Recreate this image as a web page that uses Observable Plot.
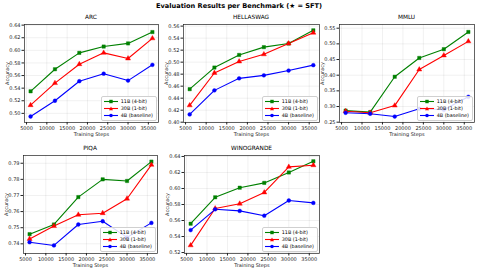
<!DOCTYPE html>
<html><head><meta charset="utf-8">
<script src="https://cdn.jsdelivr.net/npm/d3@7"></script>
<script src="https://cdn.jsdelivr.net/npm/@observablehq/plot@0.6"></script>
<style>
body{margin:0;background:#fff;}
#fig{position:relative;width:478px;height:271px;overflow:hidden;font-family:"DejaVu Sans",sans-serif;background:#fff;}
.t{position:absolute;white-space:nowrap;color:#000;line-height:1;}
.leg{position:absolute;border:0.7px solid #d0d0d0;border-radius:2px;background:rgba(255,255,255,0.85);font-size:4.9px;padding:1.5px 2.5px 1px 2px;line-height:1;}
.leg div{display:flex;align-items:center;height:6.8px;}
.leg svg{margin-right:3px;}
.p{position:absolute;}
</style></head><body><div id="fig"></div>
<script>
// ---- data ----
const steps = [6000, 12000, 18000, 24000, 30000, 36000];
const models = ["11B (4-bit)", "30B (1-bit)", "4B (baseline)"];
const benchmarks = ["ARC", "HELLASWAG", "MMLU", "PIQA", "WINOGRANDE"];

const arc_11B = [0.535, 0.570, 0.596, 0.606, 0.611, 0.629];
const arc_30B = [0.513, 0.548, 0.578, 0.596, 0.587, 0.619];
const arc_4B  = [0.495, 0.520, 0.551, 0.563, 0.552, 0.577];

const hellaswag_11B = [0.455, 0.491, 0.512, 0.525, 0.531, 0.553];
const hellaswag_30B = [0.428, 0.482, 0.501, 0.513, 0.531, 0.549];
const hellaswag_4B  = [0.413, 0.453, 0.473, 0.478, 0.486, 0.495];

const mmlu_11B = [0.287, 0.282, 0.395, 0.455, 0.483, 0.538];
const mmlu_30B = [0.285, 0.280, 0.303, 0.418, 0.463, 0.508];
const mmlu_4B  = [0.280, 0.277, 0.268, 0.293, 0.290, 0.331];

const piqa_11B = [0.746, 0.752, 0.769, 0.780, 0.779, 0.791];
const piqa_30B = [0.743, 0.751, 0.758, 0.759, 0.768, 0.789];
const piqa_4B  = [0.741, 0.739, 0.752, 0.754, 0.744, 0.753];

const winogrande_11B = [0.556, 0.589, 0.601, 0.607, 0.620, 0.634];
const winogrande_30B = [0.529, 0.575, 0.581, 0.595, 0.627, 0.629];
const winogrande_4B  = [0.548, 0.574, 0.572, 0.566, 0.585, 0.582];

const xTicks = [5000, 10000, 15000, 20000, 25000, 30000, 35000];
const arcTicks = [0.50, 0.52, 0.54, 0.56, 0.58, 0.60, 0.62, 0.64];
const hellaswagTicks = [0.40, 0.42, 0.44, 0.46, 0.48, 0.50, 0.52, 0.54, 0.56];
const mmluTicks = [0.25, 0.30, 0.35, 0.40, 0.45, 0.50, 0.55];
const piqaTicks = [0.74, 0.75, 0.76, 0.77, 0.78, 0.79];
const winograndeTicks = [0.52, 0.54, 0.56, 0.58, 0.60, 0.62, 0.64];

// ---- layout / style ----
const colors = ["#008000", "#ff0000", "#0000ff"];
const symbols = ["square", "triangle", "circle"];
const series = {
  ARC: [arc_11B, arc_30B, arc_4B],
  HELLASWAG: [hellaswag_11B, hellaswag_30B, hellaswag_4B],
  MMLU: [mmlu_11B, mmlu_30B, mmlu_4B],
  PIQA: [piqa_11B, piqa_30B, piqa_4B],
  WINOGRANDE: [winogrande_11B, winogrande_30B, winogrande_4B]
};
const panels = [
  {name: "ARC", left: 24, top: 24, w: 134, h: 98, domain: [0.4855, 0.641], ticks: arcTicks},
  {name: "HELLASWAG", left: 183, top: 24, w: 136, h: 98, domain: [0.3995, 0.5627], ticks: hellaswagTicks},
  {name: "MMLU", left: 339, top: 24, w: 135, h: 98, domain: [0.249, 0.5618], ticks: mmluTicks},
  {name: "PIQA", left: 23, top: 155, w: 134, h: 98, domain: [0.734, 0.7948], ticks: piqaTicks},
  {name: "WINOGRANDE", left: 184, top: 155, w: 135, h: 98, domain: [0.5188, 0.6412], ticks: winograndeTicks}
];

const fig = document.getElementById("fig");
function addText(txt, x, y, size, weight) {
  const d = document.createElement("div");
  d.className = "t";
  d.textContent = txt;
  d.style.fontSize = size + "px";
  d.style.fontWeight = weight || "normal";
  d.style.left = x + "px";
  d.style.top = (y - size / 2) + "px";
  d.style.transform = "translateX(-50%)";
  fig.appendChild(d);
}
addText("Evaluation Results per Benchmark (\u2605 = SFT)", 239, 6, 6.6, "bold");

const ML = 24, MR = 4, MT = 4, MB = 16;
for (const p of panels) {
  const rows = [];
  series[p.name].forEach((vals, i) => vals.forEach((v, j) => rows.push({step: steps[j], acc: v, model: models[i]})));
  const svg = Plot.plot({
    width: p.w + ML + MR, height: p.h + MT + MB,
    marginLeft: ML, marginRight: MR, marginTop: MT, marginBottom: MB,
    style: {fontFamily: "DejaVu Sans", fontSize: "5px", color: "#222", background: "transparent", overflow: "visible"},
    x: {domain: [4500, 37500], ticks: xTicks, tickFormat: d => String(d), tickSize: 2.5, tickPadding: 1.2,
        label: "Training Steps", labelAnchor: "center", labelArrow: "none", labelOffset: 13},
    y: {domain: p.domain, ticks: p.ticks, tickFormat: d3.format(".2f"), tickSize: 2.5, tickPadding: 1.5,
        label: "Accuracy", labelAnchor: "center", labelArrow: "none", labelOffset: 19},
    color: {domain: models, range: colors},
    symbol: {domain: models, range: symbols},
    marks: [
      Plot.gridX(xTicks, {stroke: "#000", strokeOpacity: 0.1, strokeWidth: 0.6}),
      Plot.gridY(p.ticks, {stroke: "#000", strokeOpacity: 0.1, strokeWidth: 0.6}),
      Plot.frame({stroke: "#222", strokeWidth: 0.7}),
      Plot.line(rows, {x: "step", y: "acc", z: "model", stroke: "model", strokeWidth: 1.1}),
      Plot.dot(rows, {x: "step", y: "acc", fill: "model", stroke: "model", symbol: "model", r: 1.9, strokeWidth: 0.4})
    ]
  });
  const wrap = document.createElement("div");
  wrap.className = "p";
  wrap.style.left = (p.left - ML) + "px";
  wrap.style.top = (p.top - MT) + "px";
  wrap.appendChild(svg);
  fig.appendChild(wrap);
  addText(p.name, p.left + p.w / 2, p.top - 6.5, 5.8);

  // legend (lower right)
  const leg = document.createElement("div");
  leg.className = "leg";
  models.forEach((m, i) => {
    const row = document.createElement("div");
    const sym = symbols[i] === "square"
      ? `<rect x="5.3" y="0.8" width="3.4" height="3.4" fill="${colors[i]}"/>`
      : symbols[i] === "triangle"
      ? `<path d="M7,0.5 L9,4.3 L5,4.3 Z" fill="${colors[i]}"/>`
      : `<circle cx="7" cy="2.5" r="1.8" fill="${colors[i]}"/>`;
    row.innerHTML = `<svg width="14" height="5"><line x1="0" x2="14" y1="2.5" y2="2.5" stroke="${colors[i]}" stroke-width="1.1"/>${sym}</svg><span>${m}</span>`;
    leg.appendChild(row);
  });
  fig.appendChild(leg);
  leg.style.right = (478 - (p.left + p.w) + 1.5) + "px";
  leg.style.bottom = (271 - (p.top + p.h) + 1.5) + "px";
}
</script></body></html>
